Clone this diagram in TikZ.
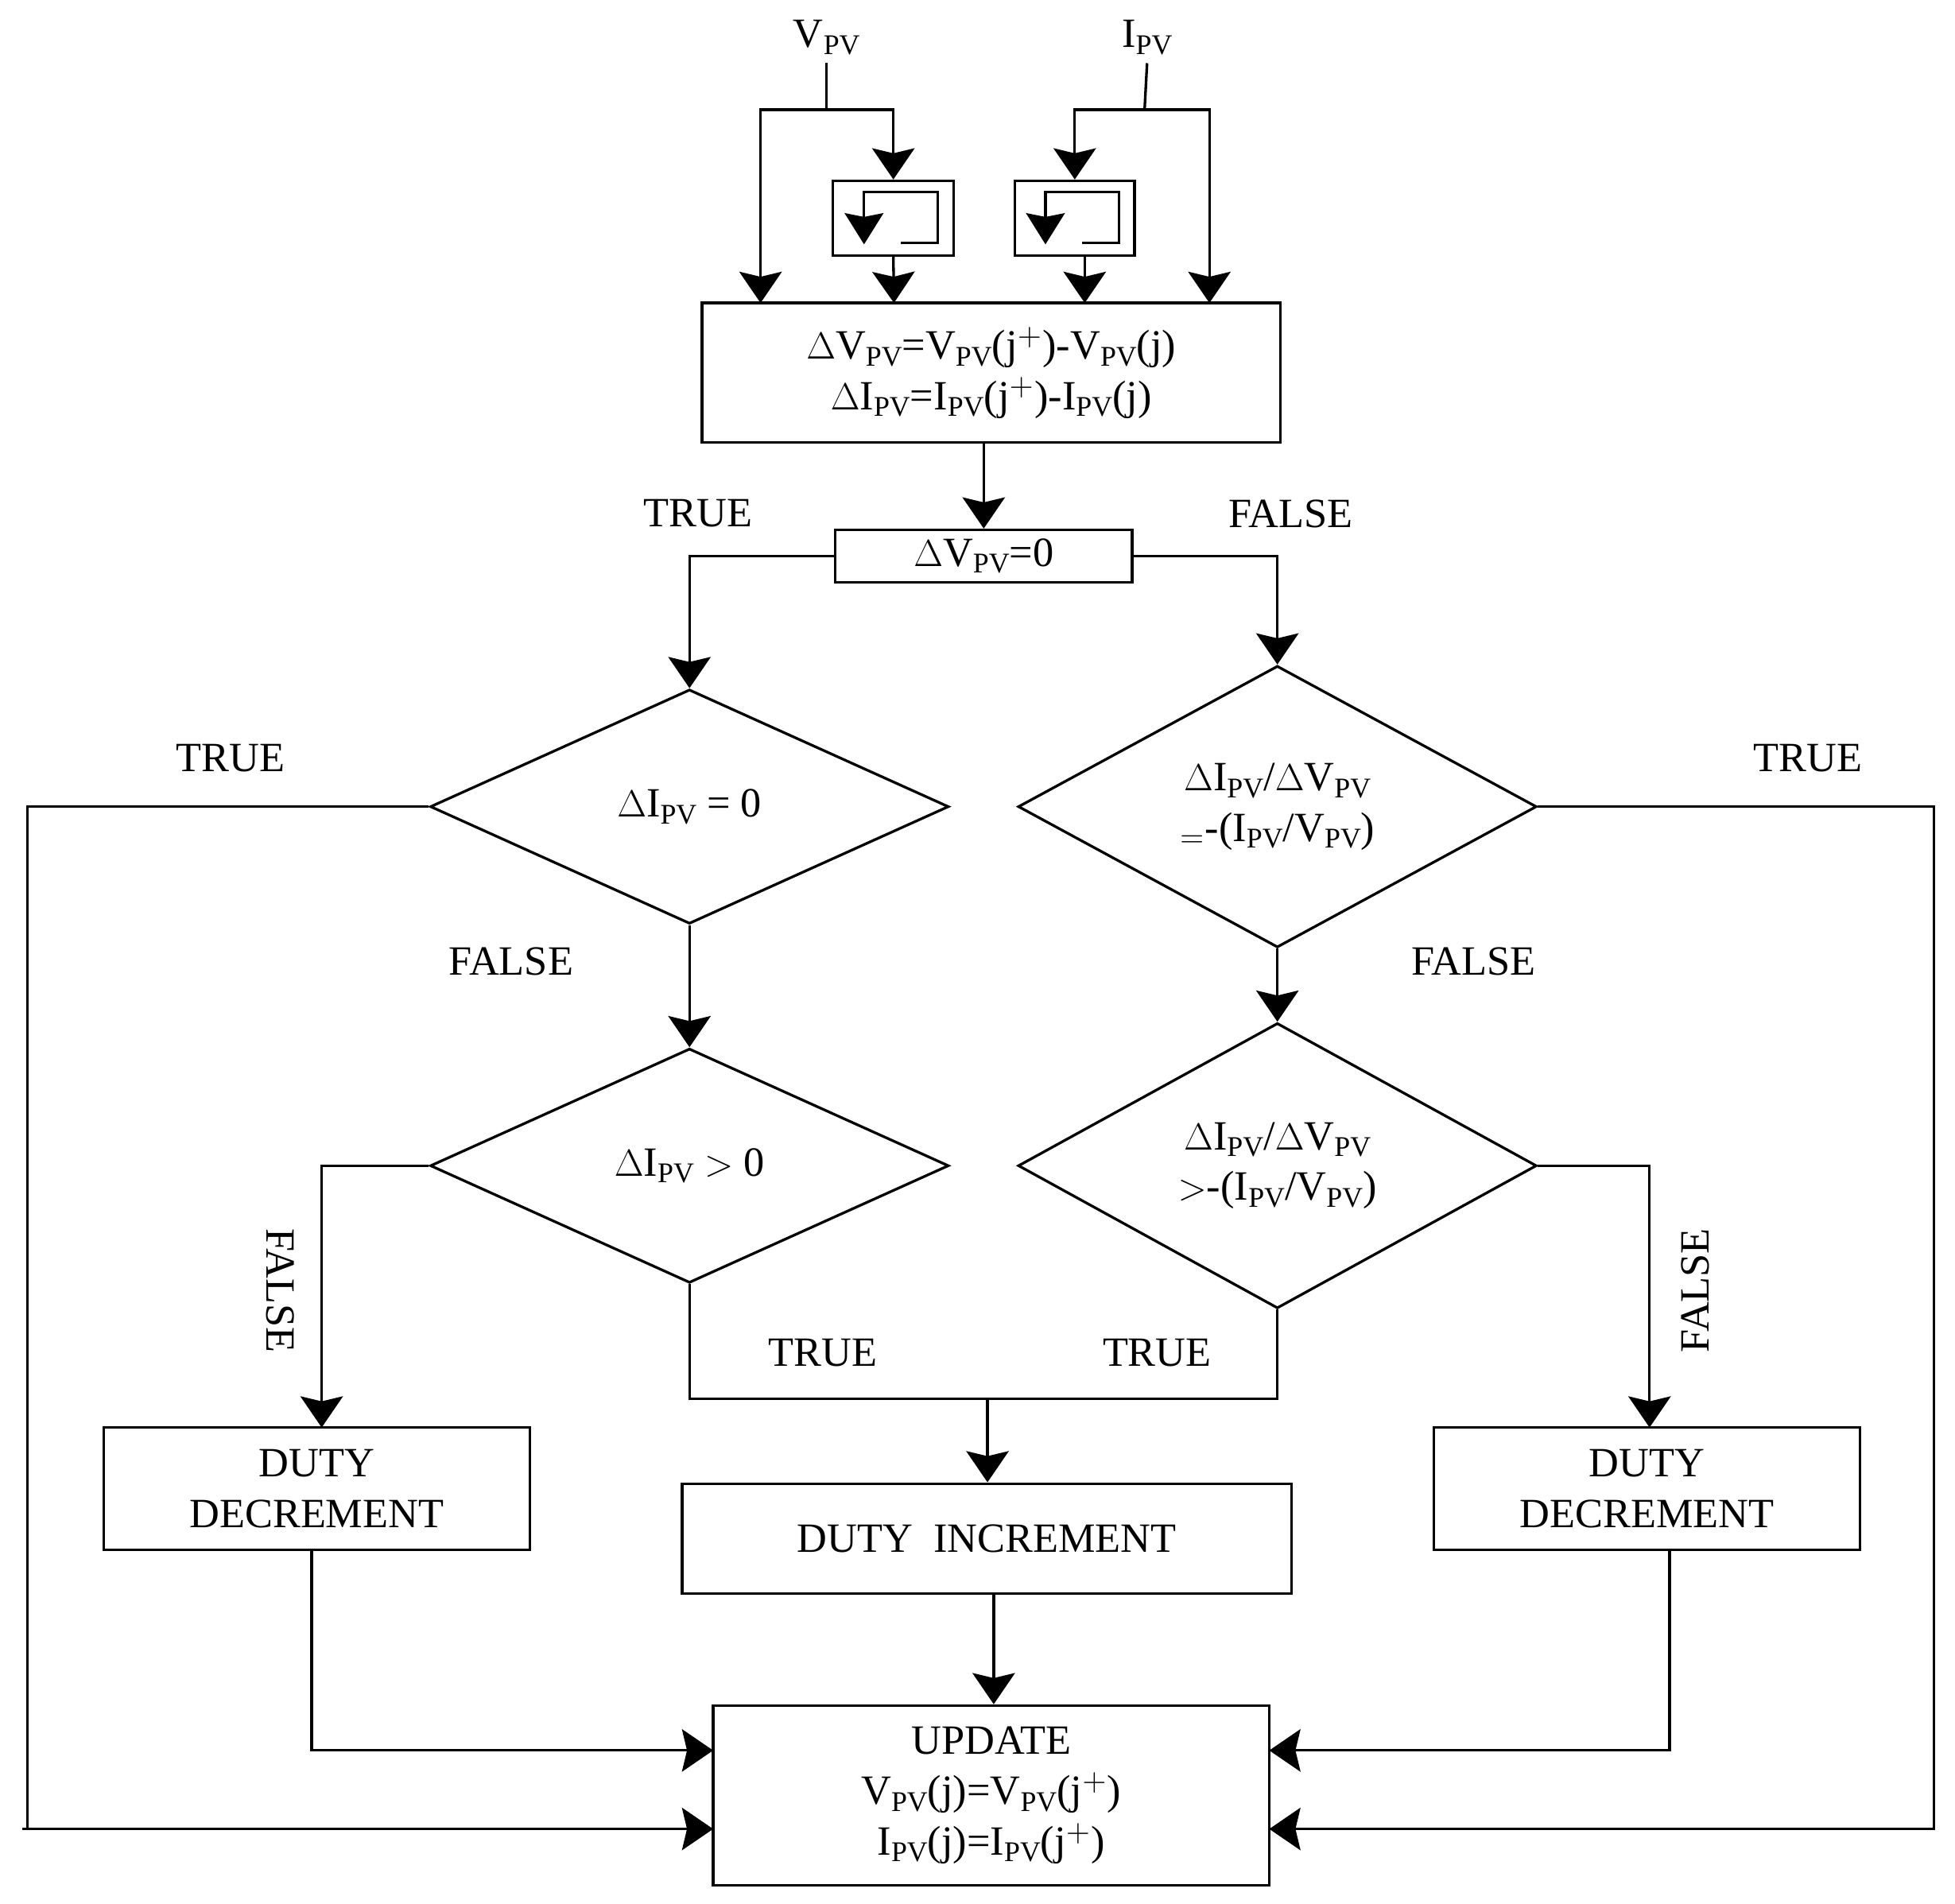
\documentclass[tikz,border=0pt]{standalone}
\usepackage{fontspec}
\setmainfont{Liberation Serif}
\usetikzlibrary{arrows.meta,shapes.geometric}
\newcommand{\pv}{\raisebox{-0.35ex}{\fontsize{13}{13}\selectfont PV}}
\begin{document}
\begin{tikzpicture}[x=0.02cm,y=-0.02cm,line width=1.2pt,
  arr/.style={-{Stealth[length=0.5cm,width=0.68cm,inset=0.08cm]}},
  box/.style={draw,inner sep=0pt,align=center,font=\fontsize{19}{23}\selectfont},
  dia/.style={draw,diamond,inner sep=0pt,minimum width=8.32cm,minimum height=3.76cm,align=center,font=\fontsize{19}{23}\selectfont},
  lbl/.style={font=\fontsize{19}{23}\selectfont}]
\useasboundingbox (0,0) rectangle (1568,1527);
% inputs
\node[lbl] (vpv) at (663,30) {V\pv};
\node[lbl] (ipv) at (920,30) {I\pv};
\coordinate (va) at (663,88);
\coordinate (ia) at (918,88);
\node[box,minimum width=1.94cm,minimum height=1.2cm] (d1) at (716.5,175) {};
\node[box,minimum width=1.92cm,minimum height=1.2cm] (d2) at (862,175) {};
\foreach \d in {d1,d2}{
  \draw[-{Stealth[length=0.5cm,width=0.62cm,inset=0.06cm]}] ([shift={(6,20)}]\d.center) -- ++(29.5,0) -- ++(0,-41) -- ++(-59,0) -- ++(0,42);
}
\node[box,minimum width=9.28cm,minimum height=2.24cm] (main) at (795,299) {$\Delta$V\pv=V\pv(j$^{+}$)-V\pv(j)\\ $\Delta$I\pv=I\pv(j$^{+}$)-I\pv(j)};
\coordinate (m1) at (610,243);
\coordinate (m2) at (717,243);
\coordinate (m3) at (870,243);
\coordinate (m4) at (970,243);
\draw (vpv.south) -- (va);
\draw[arr] (va) -| (m1);
\draw[arr] (va) -| (d1.north);
\draw[arr] (d1.south) -- (m2);
\draw (ipv.south) -- (ia);
\draw[arr] (ia) -| (d2.north);
\draw[arr] (ia) -| (m4);
\draw[arr] (d2.south -| m3) -- (m3);
% dV=0
\node[box,minimum width=4.76cm,minimum height=0.84cm] (dv) at (789,446) {$\Delta$V\pv=0};
\draw[arr] (main.south -| dv) -- (dv.north);
\node[lbl] at (560,412) {TRUE};
\node[lbl] at (1035,412) {FALSE};
% diamonds
\node[dia] (q1) at (553,647) {$\Delta$I\pv\ =\ 0};
\node[dia] (q2) at (1024.5,647) {$\Delta$I\pv/$\Delta$V\pv\\ $_{=}$-(I\pv/V\pv)};
\node[dia] (q3) at (553,935) {$\Delta$I\pv\ $>$\ 0};
\node[dia] (q4) at (1024.5,935) {$\Delta$I\pv/$\Delta$V\pv\\ $>$-(I\pv/V\pv)};
\draw[arr] (dv.west) -| (q1.north);
\draw[arr] (dv.east) -| (q2.north);
\draw[arr] (q1.south) -- (q3.north);
\draw[arr] (q2.south) -- (q4.north);
\node[lbl] at (185,608) {TRUE};
\node[lbl] at (1450,608) {TRUE};
\node[lbl] at (410,771) {FALSE};
\node[lbl] at (1182,771) {FALSE};
% boxes
\node[box,minimum width=6.84cm,minimum height=1.96cm] (dec1) at (254,1194) {DUTY\\DECREMENT};
\node[box,minimum width=6.84cm,minimum height=1.96cm] (dec2) at (1321,1194) {DUTY\\DECREMENT};
\node[box,minimum width=9.78cm,minimum height=1.76cm] (inc) at (791.5,1234) {DUTY\ \ INCREMENT};
\node[box,minimum width=8.92cm,minimum height=2.88cm] (upd) at (795,1440) {UPDATE\\V\pv(j)=V\pv(j$^{+}$)\\I\pv(j)=I\pv(j$^{+}$)};
% q3/q4 sides
\coordinate (l3) at (258,1145);
\coordinate (r4) at (1323,1145);
\draw[arr] (q3.west) -| (l3);
\draw[arr] (q4.east) -| (r4);
\node[lbl,rotate=-90] at (225,1035) {FALSE};
\node[lbl,rotate=90] at (1360,1035) {FALSE};
% TRUE merge
\coordinate (mg) at (792,1122);
\draw (q3.south) |- (q4.south |- mg) -- (q4.south);
\draw[arr] (mg) -- (inc.north -| mg);
\node[lbl] at (660,1085) {TRUE};
\node[lbl] at (928,1085) {TRUE};
% to update
\coordinate (u1) at (572,1404);
\coordinate (u2) at (1018,1404);
\coordinate (u3) at (572,1467);
\coordinate (u4) at (1018,1467);
\coordinate (lf) at (22,647);
\coordinate (rf) at (1551,647);
\draw[arr] (dec1.south -| 250,0) |- (u1);
\draw[arr] (dec2.south -| 1339,0) |- (u2);
\draw[arr] (inc.south -| 797,0) -- (upd.north -| 797,0);
\draw[arr] (q1.west) -- (lf) |- (u3);
\draw (lf |- u3) -- ++(-4,0);
\draw[arr] (q2.east) -- (rf) |- (u4);
\end{tikzpicture}
\end{document}
